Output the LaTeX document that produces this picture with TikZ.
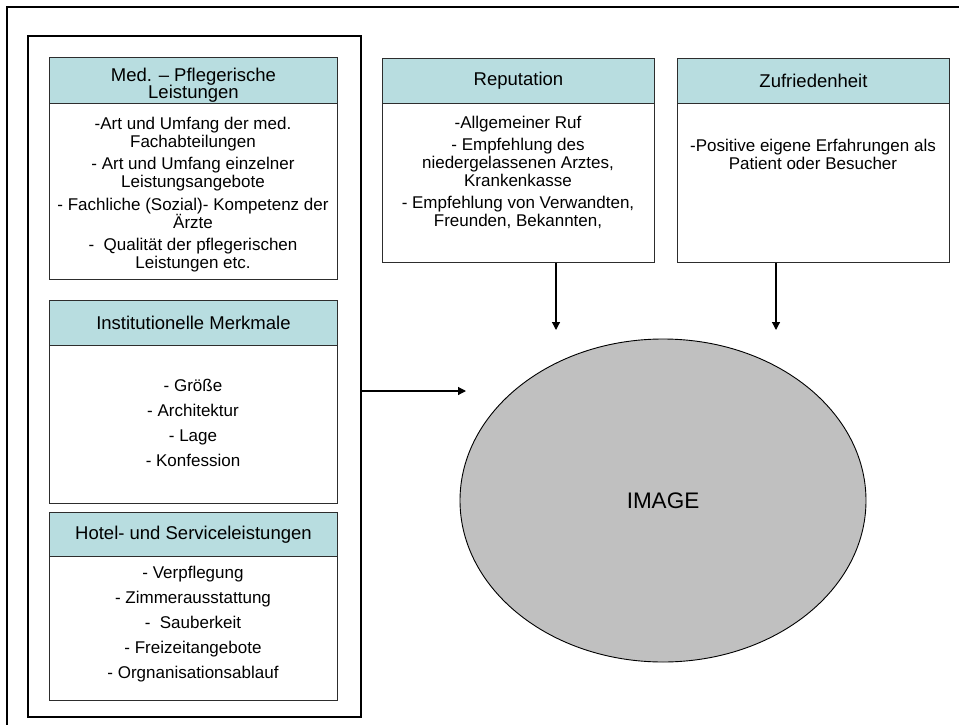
\documentclass[tikz,border=0pt]{standalone}
\usepackage{fontspec}
\setmainfont{Liberation Sans}
\usetikzlibrary{shapes.geometric,arrows.meta}
\definecolor{headfill}{RGB}{184,221,224}
\definecolor{imgfill}{RGB}{192,192,192}
\definecolor{boxline}{RGB}{45,45,45}

\begin{document}
\begin{tikzpicture}[x=1pt,y=-1pt,
  frame/.style={draw=black, line width=1.8pt},
  panel/.style={draw=black, line width=1.7pt, inner sep=0pt, anchor=north west},
  headbox/.style={draw=boxline, line width=0.9pt, fill=headfill, inner sep=0pt,
    anchor=north west, align=center, font=\fontsize{18.5}{17.5}\selectfont},
  bodybox/.style={draw=boxline, line width=0.9pt, fill=white, inner sep=0pt, anchor=north west},
  bodytext/.style={anchor=north, align=center, inner sep=0pt, font=\fontsize{17}{18}\selectfont},
  arr/.style={draw=black, line width=1.2pt, -{Triangle[width=8pt,length=8pt]}},
  imagenode/.style={ellipse, draw=black, line width=0.9pt, fill=imgfill, inner sep=0pt,
    minimum width=406pt, minimum height=323pt, font=\fontsize{22.5}{24}\selectfont}
]
\useasboundingbox (0,0) rectangle (959,725);

% page frame (right and bottom edges fall outside the page)
\draw[frame] (7,725) -- (7,7) -- (959,7);

% left panel with the three groups of factors
\node[panel, minimum width=333pt, minimum height=681pt] (leftbox) at (27,35) {};

\node[bodybox, minimum width=288pt, minimum height=176pt] (medbody) at (49,103) {};
\node[headbox, minimum width=288pt, minimum height=46pt] (medhead) at (49,57)
  {\rule{0pt}{23pt}Med. – Pflegerische\\Leistungen};
\node[bodytext] (medtext) at (193,115)
  {\rule{0pt}{14pt}-Art und Umfang der med.\\Fachabteilungen\\[4.5pt]
   - Art und Umfang einzelner\\Leistungsangebote\\[4.5pt]
   - Fachliche (Sozial)- Kompetenz der\\Ärzte\\[4.5pt]
   -\ \ Qualität der pflegerischen\\Leistungen etc.};

\node[bodybox, minimum width=288pt, minimum height=158pt] (instbody) at (49,345) {};
\node[headbox, minimum width=288pt, minimum height=45pt] (insthead) at (49,300)
  {Institutionelle Merkmale};
\node[bodytext] (insttext) at (193,377.7)
  {\rule{0pt}{14pt}- Größe\\[7pt] - Architektur\\[7pt] - Lage\\[7pt] - Konfession};

\node[bodybox, minimum width=288pt, minimum height=144pt] (hotelbody) at (49,556) {};
\node[headbox, minimum width=288pt, minimum height=44pt] (hotelhead) at (49,512)
  {Hotel- und Serviceleistungen};
\node[bodytext] (hoteltext) at (193,564)
  {\rule{0pt}{14pt}- Verpflegung\\[7pt] - Zimmerausstattung\\[7pt] -\ \ Sauberkeit\\[7pt]
   - Freizeitangebote\\[7pt] - Orgnanisationsablauf};

% reputation and satisfaction
\node[bodybox, minimum width=272pt, minimum height=159pt] (repbody) at (382,103) {};
\node[headbox, minimum width=272pt, minimum height=45pt] (rephead) at (382,58) {Reputation};
\node[bodytext] (reptext) at (518,114)
  {\rule{0pt}{14pt}-Allgemeiner Ruf\\[4pt]
   - Empfehlung des\\niedergelassenen Arztes,\\Krankenkasse\\[4pt]
   - Empfehlung von Verwandten,\\Freunden, Bekannten,};

\node[bodybox, minimum width=272pt, minimum height=159pt] (zufbody) at (677,103) {};
\node[headbox, minimum width=272pt, minimum height=45pt] (zufhead) at (677,58) {Zufriedenheit};
\node[bodytext] (zuftext) at (813,137)
  {\rule{0pt}{14pt}-Positive eigene Erfahrungen als\\Patient oder Besucher};

% the image
\node[imagenode] (image) at (663,500.5) {IMAGE};

% influences
\coordinate (leftin) at (466,391);
\coordinate (repin) at (556,330);
\coordinate (zufin) at (776,330);
\draw[arr] (leftbox.east |- leftin) -- (leftin);
\draw[arr] (repbody.south -| repin) -- (repin);
\draw[arr] (zufbody.south -| zufin) -- (zufin);
\end{tikzpicture}
\end{document}
